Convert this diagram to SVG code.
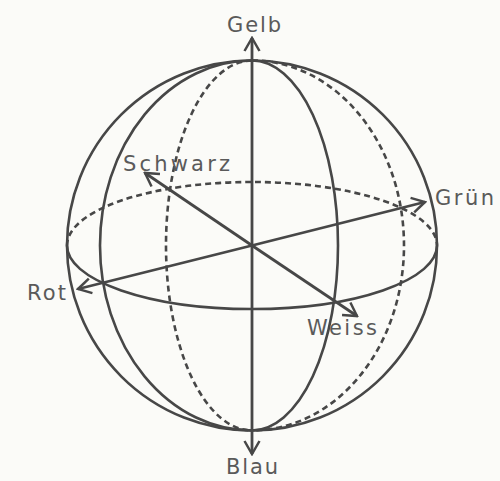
<svg xmlns="http://www.w3.org/2000/svg" width="500" height="481" viewBox="0 0 500 481">
<style>
.s{fill:none;stroke:#474747;stroke-width:2.6}
.d{fill:none;stroke:#474747;stroke-width:2.6;stroke-dasharray:6 4}
.a{fill:none;stroke:#474747;stroke-width:2.8;marker-end:url(#ah)}
text{font-family:"DejaVu Sans","Liberation Sans",sans-serif;font-size:21px;fill:#5a5a5a}
</style>
<defs>
<marker id="ah" viewBox="-16 -9 18 18" refX="0" refY="0" markerWidth="18" markerHeight="18" orient="auto" markerUnits="userSpaceOnUse">
<path d="M-13,-7.5 L0,0 L-13,7.5" fill="none" stroke="#474747" stroke-width="2.5"/>
</marker>
</defs>
<rect width="500" height="481" fill="#fbfbf8"/>
<g id="sphere">
<circle class="s" cx="252" cy="245.5" r="185"/>
<path class="d" d="M67,245.5 A185,63.5 0 0 1 437,245.5"/>
<path class="s" d="M67,245.5 A185,63.5 0 0 0 437,245.5"/>
<path class="s" d="M252,60.5 A152,185 0 0 0 252,430.5"/>
<path class="d" d="M252,60.5 A152,185 0 0 1 252,430.5"/>
<path class="d" d="M252,60.5 A86,185 0 0 0 252,430.5"/>
<path class="s" d="M252,60.5 A86,185 0 0 1 252,430.5"/>
</g>
<g id="connectors">
<line class="a" x1="252" y1="245.5" x2="252" y2="38"/>
<line class="a" x1="252" y1="245.5" x2="252" y2="454"/>
<line class="a" x1="252" y1="245.5" x2="145" y2="173"/>
<line class="a" x1="252" y1="245.5" x2="357" y2="316"/>
<line class="a" x1="252" y1="245.5" x2="78" y2="289"/>
<line class="a" x1="252" y1="245.5" x2="425" y2="202"/>
</g>
<g id="gelb"><text x="227" y="32" textLength="54" lengthAdjust="spacing">Gelb</text></g>
<g id="schwarz"><text x="123" y="171" textLength="107" lengthAdjust="spacing">Schwarz</text></g>
<g id="rot"><text x="27" y="300" textLength="39" lengthAdjust="spacing">Rot</text></g>
<g id="weiss"><text x="307" y="335" textLength="70" lengthAdjust="spacing">Weiss</text></g>
<g id="gruen"><text x="435" y="205" textLength="59" lengthAdjust="spacing">Grün</text></g>
<g id="blau"><text x="226" y="474" textLength="52" lengthAdjust="spacing">Blau</text></g>
</svg>
